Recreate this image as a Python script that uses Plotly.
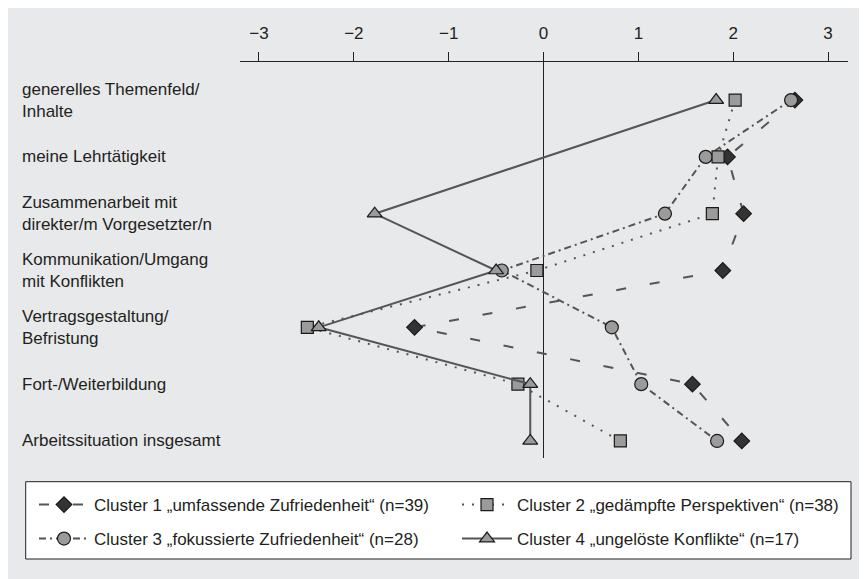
import plotly.graph_objects as go

categories = [
    "generelles Themenfeld/<br>Inhalte",
    "meine Lehrtätigkeit",
    "Zusammenarbeit mit<br>direkter/m Vorgesetzter/n",
    "Kommunikation/Umgang<br>mit Konflikten",
    "Vertragsgestaltung/<br>Befristung",
    "Fort-/Weiterbildung",
    "Arbeitssituation insgesamt",
]
cluster1 = [2.65, 1.94, 2.11, 1.89, -1.36, 1.57, 2.09]
cluster2 = [2.02, 1.84, 1.78, -0.07, -2.49, -0.27, 0.81]
cluster3 = [2.61, 1.71, 1.28, -0.44, 0.72, 1.03, 1.83]
cluster4 = [1.82, None, -1.78, -0.50, -2.37, -0.14, -0.14]
names = [
    "Cluster 1 „umfassende Zufriedenheit“ (n=39)",
    "Cluster 2 „gedämpfte Perspektiven“ (n=38)",
    "Cluster 3 „fokussierte Zufriedenheit“ (n=28)",
    "Cluster 4 „ungelöste Konflikte“ (n=17)",
]
tick_vals = [-3, -2, -1, 0, 1, 2, 3]
tick_text = ["−3", "−2", "−1", "0", "1", "2", "3"]

FONT = "Liberation Sans"
TXT = "#231f20"
LINE = "#555555"
GRAY = "#9b9b9b"
BG = "#e8e9eb"

# the page body adds an 8px offset; positions below are screen pixels minus 8
OFF = 8
L, R, T, B = 240 - OFF, 848 - OFF, 62 - OFF, 458 - OFF
PW, PH = R - L, B - T
W, H = 867, 579


def px(x):
    return (x - OFF - L) / PW


def py(y):
    return (B - (y - OFF)) / PH


ypos = list(range(len(categories)))

fig = go.Figure()
# drawing order: cluster1, cluster3, cluster2, cluster4
fig.add_trace(go.Scatter(
    x=cluster1, y=ypos, name=names[0], legend="legend", mode="lines+markers",
    line=dict(color=LINE, width=2, dash="10px,24px"),
    marker=dict(symbol="diamond", size=12, color="#333333", line=dict(color="#1a1a1a", width=1.2)),
))
fig.add_trace(go.Scatter(
    x=cluster3, y=ypos, name=names[2], legend="legend3", mode="lines+markers",
    line=dict(color=LINE, width=2, dash="7px,4px,2px,4px"),
    marker=dict(symbol="circle", size=13, color=GRAY, line=dict(color="#1a1a1a", width=1.2)),
))
fig.add_trace(go.Scatter(
    x=cluster2, y=ypos, name=names[1], legend="legend2", mode="lines+markers",
    line=dict(color=LINE, width=2, dash="2px,8px"),
    marker=dict(symbol="square", size=12, color=GRAY, line=dict(color="#1a1a1a", width=1.2)),
))
fig.add_trace(go.Scatter(
    x=cluster4, y=ypos, name=names[3], legend="legend4", mode="lines+markers", connectgaps=True,
    line=dict(color=LINE, width=2),
    marker=dict(symbol="triangle-up", size=13, color=GRAY, line=dict(color="#1a1a1a", width=1.2)),
))

for i, c in enumerate(categories):
    fig.add_annotation(
        text=c, xref="paper", yref="y", x=px(20), y=i,
        xanchor="left", yanchor="middle", align="left", showarrow=False,
        font=dict(family=FONT, size=17, color=TXT),
    )

# legend frame
fig.add_shape(type="rect", xref="paper", yref="paper", x0=px(25.7), x1=px(851),
              y0=py(559), y1=py(481.7), fillcolor="white",
              line=dict(color="#222222", width=1), layer="below")


def leg(xp, yp):
    return dict(
        orientation="h", x=px(xp), y=py(yp), xanchor="left", yanchor="middle",
        bgcolor="rgba(0,0,0,0)", borderwidth=0, itemwidth=50,
        font=dict(family=FONT, size=17, color=TXT),
    )


fig.update_layout(
    width=W, height=H,
    margin=dict(l=L, r=W - R, t=T, b=H - B, autoexpand=False),
    paper_bgcolor=BG, plot_bgcolor=BG,
    font=dict(family=FONT, size=17, color=TXT),
    showlegend=True,
    legend=leg(34, 505),
    legend2=leg(457, 505),
    legend3=leg(34, 539),
    legend4=leg(457, 539),
    xaxis=dict(
        side="top", range=[-3.2, 3.21], tickvals=tick_vals, ticktext=tick_text,
        showline=True, linecolor="#222222", linewidth=1.3,
        ticks="outside", ticklen=9, tickwidth=1, tickcolor="#222222",
        showgrid=False, zeroline=True, zerolinecolor="#222222", zerolinewidth=1.3,
        tickfont=dict(family=FONT, size=17, color=TXT), ticklabelstandoff=6,
    ),
    yaxis=dict(
        range=[6.30, -0.67], showticklabels=False, showgrid=False, zeroline=False,
        showline=False, ticks="",
    ),
)

fig.write_html("out.html")
